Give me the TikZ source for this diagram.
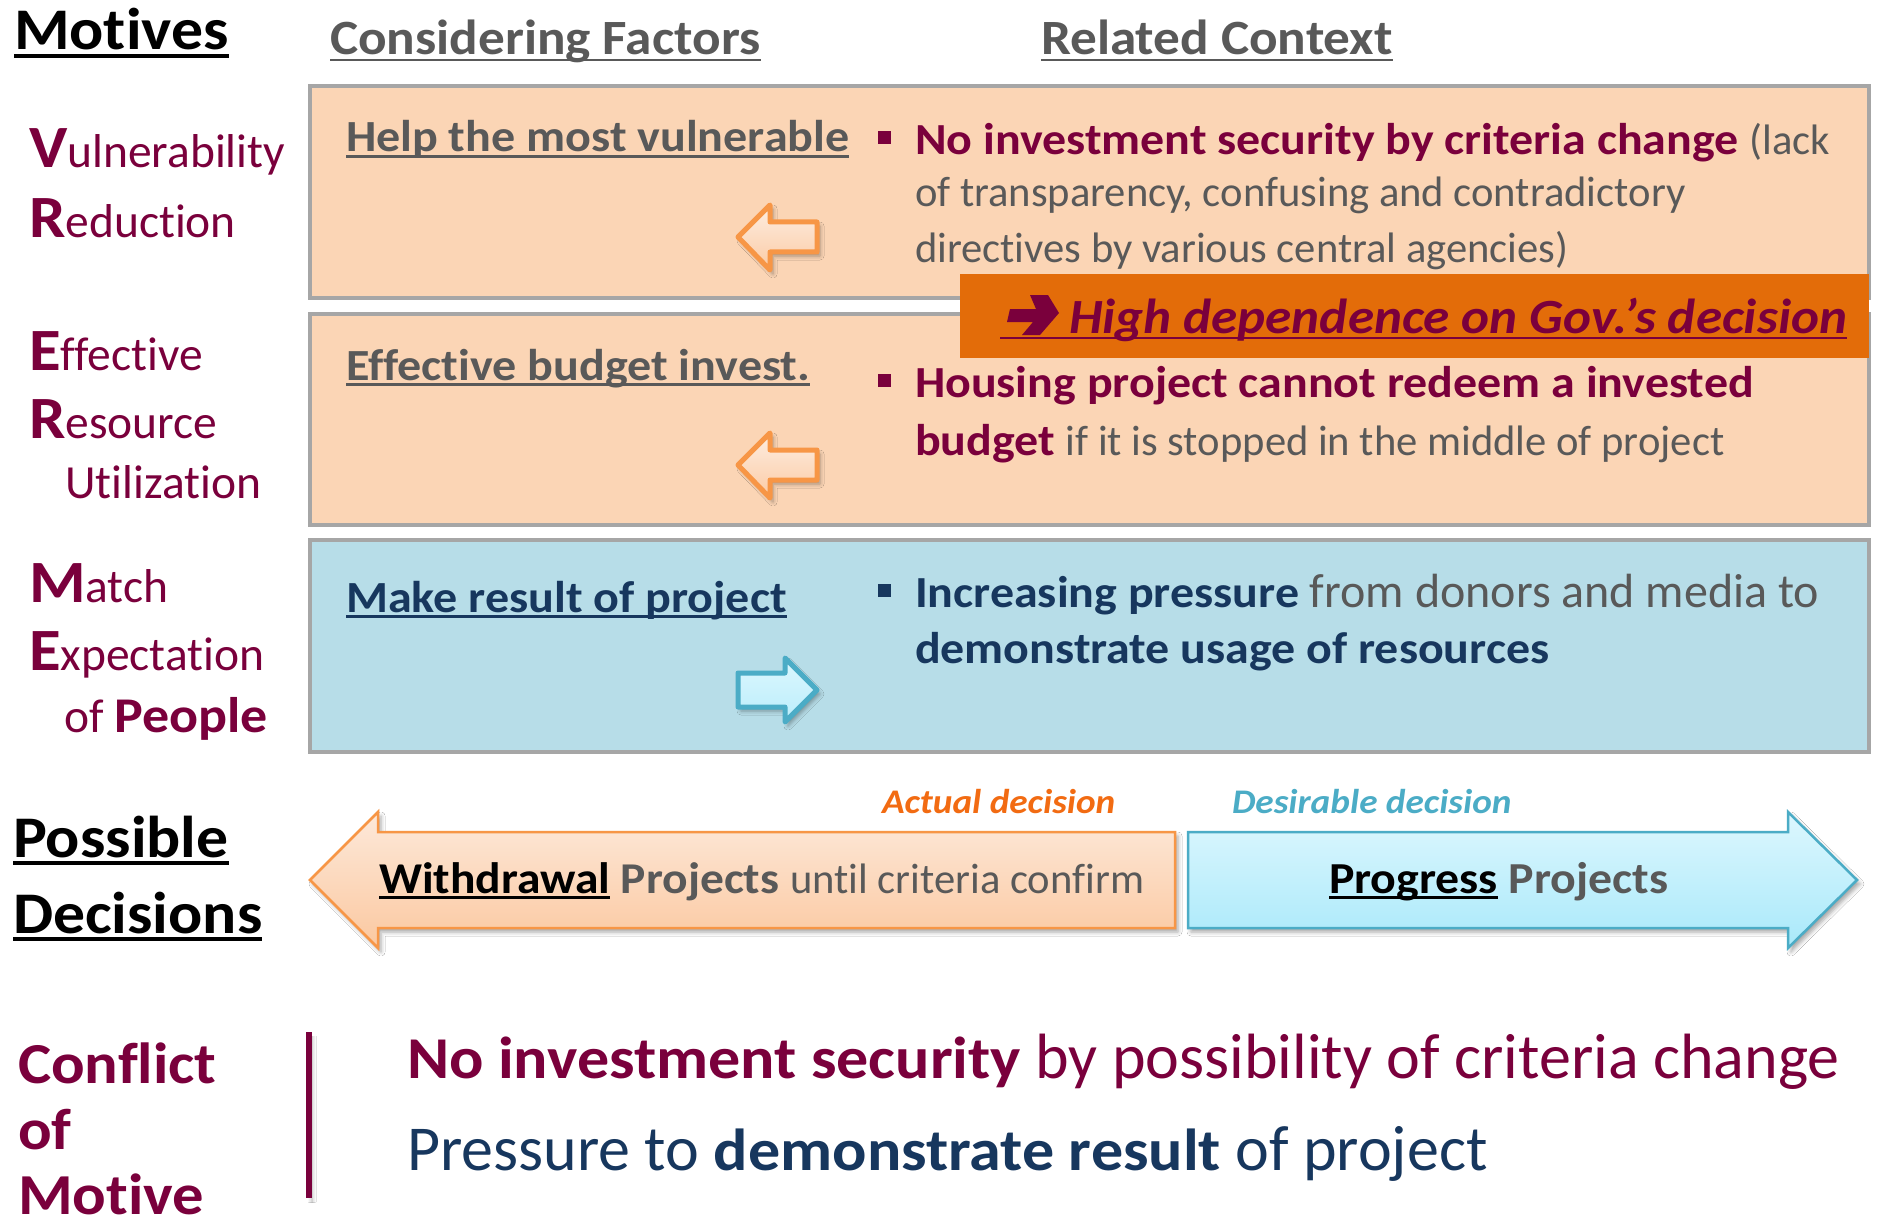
\documentclass[tikz,border=0pt]{standalone}
\usepackage{fontspec}
\setmainfont{Carlito}[Ligatures=NoCommon,
  BoldFeatures={FakeStretch=1.08}, BoldItalicFeatures={FakeStretch=1.08}]
\usetikzlibrary{shadows.blur}

\definecolor{wine}{HTML}{7A003C}
\definecolor{txtgray}{HTML}{595959}
\definecolor{navy}{HTML}{17375E}
\definecolor{frame}{HTML}{A6A6A6}
\definecolor{peach}{HTML}{FBD5B5}
\definecolor{aqua}{HTML}{B7DDE8}
\definecolor{banner}{HTML}{E36C09}
\definecolor{arrorange}{HTML}{F79646}
\definecolor{arrblue}{HTML}{4BACC6}
\definecolor{actual}{HTML}{F26B12}
\definecolor{oTop}{HTML}{FDE9DA}
\definecolor{oBot}{HTML}{FBC8A0}
\definecolor{bTop}{HTML}{DDF7FE}
\definecolor{bBot}{HTML}{A9E9FA}

% font size in pt, solid line spacing
\newcommand\fsz[1]{\fontsize{#1}{#1}\selectfont}
% underline crossing the descenders, as in slide software
\newcommand\ulin[1]{\setbox0\hbox{#1}\rlap{\rule[-0.13em]{\wd0}{0.055em}}\box0\relax}
% enlarged bold initial of the motive labels
\newcommand\capl[1]{{\fontsize{60}{60}\selectfont\bfseries #1}}
% smaller regular run inside the context bullets
\newcommand\reg[1]{{\fontsize{42.6}{42.6}\selectfont\mdseries #1}}

\tikzset{
  lbl/.style={anchor=base west, inner sep=0pt, outer sep=0pt},
  panel/.style={draw=frame, line width=4pt},
  bulletsq/.style={inner sep=0pt, minimum size=13pt},
  softshadow/.style={blur shadow={shadow xshift=3pt, shadow yshift=-4pt,
      shadow blur radius=4pt, shadow opacity=35}},
  smallorange/.style={draw=arrorange, line width=5pt, line join=round,
      top color=oTop!80!white, bottom color=oBot!80!peach, softshadow},
  smallblue/.style={draw=arrblue, line width=5pt, line join=round,
      top color=bTop, bottom color=bBot!80!white, softshadow},
  bigorange/.style={draw=arrorange, line width=2.5pt,
      top color=oTop, bottom color=oBot, softshadow},
  bigblue/.style={draw=arrblue, line width=2.5pt,
      top color=bTop, bottom color=bBot, softshadow},
}

\begin{document}
\begin{tikzpicture}[x=1pt,y=-1pt]
\useasboundingbox (0,0) rectangle (1877,1225);
\fill[white] (0,0) rectangle (1877,1225);

% ---- column headings
\node[lbl, font=\fsz{59}\bfseries] (motives) at (14,50) {\ulin{Motives}};
\node[lbl, font=\fsz{49.3}\bfseries, text=txtgray] (consid) at (330,55) {\ulin{Considering Factors}};
\node[lbl, font=\fsz{49.3}\bfseries, text=txtgray] (related) at (1041,55) {\ulin{Related Context}};

% ---- three motive panels
\draw[panel, fill=peach] (310,86) rectangle (1869,298);
\draw[panel, fill=peach] (310,314) rectangle (1869,525);
\draw[panel, fill=aqua] (310,540) rectangle (1869,752);

% ---- motive labels
\begin{scope}[every node/.style={lbl, font=\fsz{47.5}, text=wine}]
\node (vr1) at (29,168) {\capl{V}ulnerability};
\node (vr2) at (29,238) {\capl{R}eduction};
\node (er1) at (29,370) {\capl{E}ffective};
\node (er2) at (29,438) {\capl{R}esource};
\node (er3) at (65,498) {Utilization};
\node (me1) at (29,602) {\capl{M}atch};
\node (me2) at (29,670) {\capl{E}xpectation};
\node (me3) at (64,732) {of {\fontsize{50}{50}\selectfont\bfseries People}};
\end{scope}

% ---- considering factors
\node[lbl, font=\fsz{44.5}\bfseries, text=txtgray] (f1) at (346,152) {\ulin{Help the most vulnerable}};
\node[lbl, font=\fsz{44.5}\bfseries, text=txtgray] (f2) at (346,380) {\ulin{Effective budget invest.}};
\node[lbl, font=\fsz{44.5}\bfseries, text=navy] (f3) at (346,612) {\ulin{Make result of project}};

% ---- small direction arrows
\path[smallorange] (738,237) -- (770,205) -- (770,222) -- (817,222) -- (817,252)
   -- (770,252) -- (770,270) -- cycle;
\path[smallorange] (738,465) -- (770,433) -- (770,450) -- (817,450) -- (817,480)
   -- (770,480) -- (770,498) -- cycle;
\path[smallblue] (738,673) -- (785,673) -- (785,658) -- (817,690) -- (785,722)
   -- (785,707) -- (738,707) -- cycle;

% ---- related context
\node[bulletsq, fill=wine] (b1) at (884,138) {};
\node[bulletsq, fill=wine] (b2) at (884,380) {};
\node[bulletsq, fill=navy] (b3) at (884,590) {};
\begin{scope}[every node/.style={lbl, font=\fsz{44.4}\bfseries}]
\node[text=wine] (c1a) at (915,155) {No investment security by criteria change \textcolor{txtgray}{\reg{(lack}}};
\node[text=txtgray] (c1b) at (915,207) {\reg{of transparency, confusing and contradictory}};
\node[text=txtgray] (c1c) at (915,262) {\reg{directives by various central agencies)}};
\node[text=wine] (c2a) at (915,397) {Housing project cannot redeem a invested};
\node[text=wine] (c2b) at (915,455) {budget \textcolor{txtgray}{\reg{if it is stopped in the middle of project}}};
\node[text=navy] (c3a) at (915,607) {Increasing pressure \textcolor{txtgray}{\fontsize{48}{48}\selectfont\mdseries from donors and media to}};
\node[text=navy] (c3b) at (915,663) {demonstrate usage of resources};
\end{scope}

% ---- banner
\fill[banner] (960,274) rectangle (1869,358);
\node[lbl, font=\fsz{49.2}\bfseries\itshape, text=wine] (hd) at (1000,333)
  {\ulin{\hspace*{69pt}High dependence on Gov.’s decision}};
\fill[wine] (1010,309) -- (1036,309) -- (1030,295) -- (1048,295) -- (1059,313)
   -- (1040,335) -- (1022,335) -- (1033,322) -- (1007,322) -- cycle;

% ---- possible decisions
\node[lbl, font=\fsz{59}\bfseries] (pd1) at (13,857) {\ulin{Possible}};
\node[lbl, font=\fsz{59}\bfseries] (pd2) at (13,933) {\ulin{Decisions}};

\path[bigorange] (310,880) -- (378,812) -- (378,832) -- (1175,832) -- (1175,928)
   -- (378,928) -- (378,948) -- cycle;
\path[bigblue] (1857,880) -- (1788,812) -- (1788,832) -- (1188,832) -- (1188,928)
   -- (1788,928) -- (1788,948) -- cycle;

\node[lbl, font=\fsz{34.5}\bfseries\itshape, text=actual] (act) at (882,813) {Actual decision};
\node[lbl, font=\fsz{34.5}\bfseries\itshape, text=arrblue] (des) at (1232,813) {Desirable decision};

\node[lbl, font=\fsz{44}\bfseries] (wd) at (379,893)
  {\ulin{Withdrawal} \textcolor{txtgray}{Projects \reg{until criteria confirm}}};
\node[lbl, font=\fsz{44.3}\bfseries] (pg) at (1329,893)
  {\ulin{Progress} \textcolor{txtgray}{Projects}};

% ---- conflict of motive
\begin{scope}[every node/.style={lbl, font=\fsz{58}\bfseries, text=wine}]
\node (cm1) at (18,1083) {Conflict};
\node (cm2) at (18,1149) {of};
\node (cm3) at (18,1214) {Motive};
\end{scope}
\draw[wine, line width=6pt, softshadow] (309,1032) -- (309,1198);

\node[lbl, font=\fsz{64}, text=wine] (k1) at (407,1078)
  {{\fontsize{59.3}{59.3}\selectfont\bfseries No investment security} by possibility of criteria change};
\node[lbl, font=\fsz{64}, text=navy] (k2) at (407,1170)
  {Pressure to {\fontsize{59.3}{59.3}\selectfont\bfseries demonstrate result} of project};
\end{tikzpicture}
\end{document}
